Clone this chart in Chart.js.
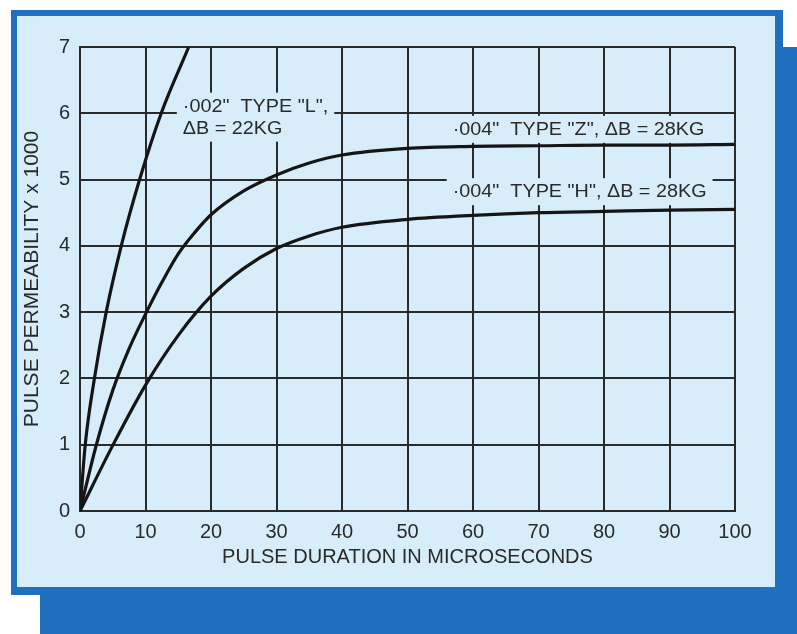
<!DOCTYPE html>
<html>
<head>
<meta charset="utf-8">
<script src="https://cdn.jsdelivr.net/npm/chart.js@4.4.1/dist/chart.umd.min.js"></script>
<style>
  html, body { margin: 0; padding: 0; background: #fff; }
  #wrap { width: 797px; height: 634px; }
</style>
</head>
<body>
<div id="wrap"><canvas id="chart" width="797" height="634"></canvas></div>
<script>
// pulse duration (microseconds) / permeability (x1000) for each core type
const typeLx = [0, 0.8, 2.2, 4.0, 6.3, 9.1, 12.4, 16.6];
const typeLy = [0, 1, 2, 3, 4, 5, 6, 7];
const typeZx = [0, 2.5, 5, 7.5, 10, 12.5, 15, 17.5, 20, 25, 30, 35, 40, 50, 60, 70, 80, 90, 100];
const typeZy = [0, 1.0, 1.82, 2.45, 2.97, 3.45, 3.88, 4.2, 4.47, 4.83, 5.07, 5.25, 5.37, 5.47, 5.5, 5.51, 5.52, 5.52, 5.53];
const typeHx = [0, 5, 10, 15, 20, 25, 30, 35, 40, 50, 60, 70, 80, 90, 100];
const typeHy = [0, 0.99, 1.9, 2.65, 3.24, 3.66, 3.96, 4.15, 4.28, 4.4, 4.46, 4.5, 4.52, 4.54, 4.55];

const xTitle = "PULSE DURATION IN MICROSECONDS";
const yTitle = "PULSE PERMEABILITY x 1000";

// curve captions, anchored at (x, y) in data units
const noteTexts = [
  ['\u00b7002"  TYPE "L",', '\u0394B = 22KG'],
  ['\u00b7004"  TYPE "Z", \u0394B = 28KG'],
  ['\u00b7004"  TYPE "H", \u0394B = 28KG']
];
const noteX = [15.7, 56.9, 56.9];
const noteY = [6.1, 5.75, 4.81];

const INK = "#2a2a2a";
const PAPER = "#d7eefa";
const FRAME = "#2070c0";

function pts(xs, ys) {
  return xs.map((x, i) => ({ x, y: ys[i] }));
}

// blue card with offset shadow behind the plot
const cardPlugin = {
  id: "card",
  beforeDraw(chart) {
    const ctx = chart.ctx;
    ctx.save();
    ctx.fillStyle = "#fff";
    ctx.fillRect(0, 0, chart.width, chart.height);
    ctx.fillStyle = FRAME;
    ctx.fillRect(40, 47, chart.width - 40, chart.height - 47);
    ctx.fillRect(11, 10, 772, 585);
    ctx.fillStyle = PAPER;
    ctx.fillRect(17, 16, 758, 571);
    ctx.restore();
  }
};

// captions sit in boxes that knock out the grid behind them
const notesPlugin = {
  id: "notes",
  beforeDatasetsDraw(chart) {
    const ctx = chart.ctx;
    const xs = chart.scales.x, ys = chart.scales.y;
    const stretch = 1.1, lineGap = 22;
    ctx.save();
    ctx.font = "18px 'Liberation Sans', Arial, sans-serif";
    ctx.textBaseline = "middle";
    noteTexts.forEach((lines, i) => {
      const left = xs.getPixelForValue(noteX[i]);
      const cy = ys.getPixelForValue(noteY[i]);
      const w = Math.max(...lines.map((t) => ctx.measureText(t).width)) * stretch;
      const bottom = cy + (lines.length - 1) * lineGap;
      ctx.fillStyle = PAPER;
      ctx.fillRect(left - 6, cy - 14, w + 12, bottom - cy + 27);
      ctx.fillStyle = INK;
      lines.forEach((t, j) => {
        ctx.save();
        ctx.translate(left, cy + j * lineGap);
        ctx.scale(stretch, 1);
        ctx.fillText(t, 0, 0);
        ctx.restore();
      });
    });
    ctx.restore();
  }
};

const curve = (label, data) => ({
  label,
  data,
  borderColor: "#151515",
  borderWidth: 3.2,
  pointRadius: 0,
  fill: false,
  cubicInterpolationMode: "monotone"
});

const tickFont = { family: "'Liberation Sans', Arial, sans-serif", size: 20 };

new Chart(document.getElementById("chart"), {
  type: "line",
  data: {
    datasets: [
      curve("L", pts(typeLx, typeLy)),
      curve("Z", pts(typeZx, typeZy)),
      curve("H", pts(typeHx, typeHy))
    ]
  },
  options: {
    responsive: false,
    animation: false,
    events: [],
    layout: { padding: { left: 0, top: 47, right: 62, bottom: 60 } },
    plugins: { legend: { display: false }, tooltip: { enabled: false } },
    scales: {
      x: {
        type: "linear",
        min: 0,
        max: 100,
        afterFit: (scale) => { scale.height = 63; },
        ticks: { stepSize: 10, color: INK, font: tickFont, padding: 9, maxRotation: 0 },
        grid: { color: INK, lineWidth: 2, drawTicks: false },
        border: { color: INK, width: 2 },
        title: {
          display: true,
          text: xTitle,
          color: INK,
          font: { family: "'Liberation Sans', Arial, sans-serif", size: 20 },
          padding: { top: 0, bottom: 5 }
        }
      },
      y: {
        type: "linear",
        min: 0,
        max: 7,
        afterFit: (scale) => { scale.width = 80; },
        ticks: { stepSize: 1, color: INK, font: tickFont, padding: 10 },
        grid: { color: INK, lineWidth: 2, drawTicks: false },
        border: { color: INK, width: 2 },
        title: {
          display: true,
          text: yTitle,
          color: INK,
          font: { family: "'Liberation Sans', Arial, sans-serif", size: 21 },
          padding: { top: 20, bottom: 0 }
        }
      }
    }
  },
  plugins: [cardPlugin, notesPlugin]
});
</script>
</body>
</html>
